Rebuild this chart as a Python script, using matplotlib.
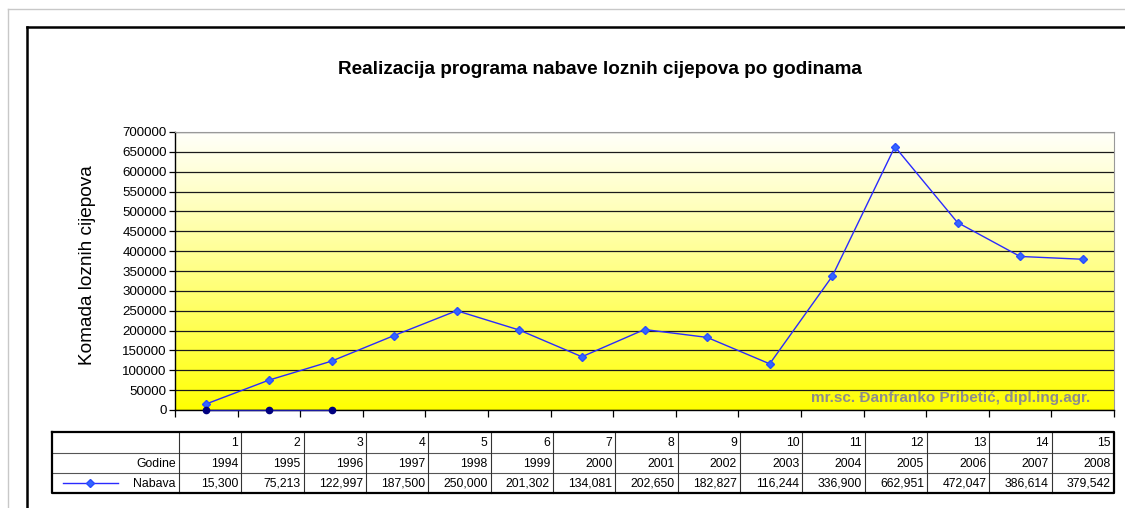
import numpy as np
import matplotlib
matplotlib.use("Agg")
import matplotlib.pyplot as plt

plt.rcParams['font.family'] = ['Liberation Sans', 'DejaVu Sans']

# data
redni = [1, 2, 3, 4, 5, 6, 7, 8, 9, 10, 11, 12, 13, 14, 15]
godine = [1994, 1995, 1996, 1997, 1998, 1999, 2000, 2001, 2002, 2003, 2004, 2005, 2006, 2007, 2008]
nabava = [15300, 75213, 122997, 187500, 250000, 201302, 134081, 202650, 182827, 116244,
          336900, 662951, 472047, 386614, 379542]
nule_x = [1, 2, 3]
nule = [0, 0, 0]

title = "Realizacija programa nabave loznih cijepova po godinama"
ylabel = "Komada loznih cijepova"
potpis = "mr.sc. Đanfranko Pribetić, dipl.ing.agr."

W, H = 1125, 508
fig = plt.figure(figsize=(W / 100, H / 100), dpi=100)

# background axes in pixel coordinates (frames + table)
bg = fig.add_axes([0, 0, 1, 1])
bg.set_xlim(0, W)
bg.set_ylim(H, 0)
bg.axis("off")

bg.plot([8, W], [9, 9], color="#c8c8c8", lw=1)
bg.plot([8, 8], [9, H], color="#c8c8c8", lw=1)
bg.plot([27, W], [27, 27], color="black", lw=1.8)
bg.plot([27, 27], [27, H], color="black", lw=1.8)

# plot area
L, R, T, B = 175, 1114, 132, 410
ax = fig.add_axes([L / W, 1 - B / H, (R - L) / W, (B - T) / H])

grad = np.linspace(0, 1, 256)
img = np.zeros((256, 1, 3))
img[:, 0, 0] = 1.0
img[:, 0, 1] = 1.0
img[:, 0, 2] = grad ** 0.9 * 0.98
ax.imshow(img, origin="lower", extent=[0.5, 15.5, 0, 700000], aspect="auto", zorder=0)

ax.set_xlim(0.5, 15.5)
ax.set_ylim(0, 700000)
ax.set_yticks(range(0, 700001, 50000))
ax.set_yticklabels([str(v) for v in range(0, 700001, 50000)], fontsize=9.6)
ax.yaxis.grid(True, color="#1a1a1a", lw=0.9, zorder=1)
ax.set_xticks(np.arange(0.5, 16, 1))
ax.set_xticklabels([])
ax.tick_params(axis="x", direction="out", length=5, width=0.9)
ax.tick_params(axis="y", direction="out", length=4, width=0.9, pad=2)
for s in ["top", "right"]:
    ax.spines[s].set_color("#999999")
for s in ["left", "bottom"]:
    ax.spines[s].set_color("black")
    ax.spines[s].set_linewidth(1.0)

ax.plot(redni, nabava, color="#2a2aff", lw=1.0, marker="D", markersize=4.5,
        markerfacecolor="#3366ff", markeredgecolor="#2a4cff", zorder=4, clip_on=False)
ax.plot(nule_x, nule, color="#1a1aa0", lw=1.0, marker="o", markersize=4.5,
        markerfacecolor="#000080", markeredgecolor="#000080", zorder=4, clip_on=False)

ax.text(0.975, 0.043, potpis, transform=ax.transAxes, ha="right", va="center",
        fontsize=11.0, fontweight="bold", color="#8c8c8c", zorder=5)

fig.text(600 / W, 1 - 70 / H, title, ha="center", va="center", fontsize=13.6, fontweight="bold")
fig.text(88 / W, 1 - 265 / H, ylabel, ha="center", va="center", rotation=90, fontsize=13.7)

# table
tx0, tx1 = 52, 1114
c0 = 179
cw = (tx1 - c0) / 15
rows = [432, 453, 473, 493]
for y in rows[1:-1]:
    bg.plot([tx0, tx1], [y, y], color="#555555", lw=0.8)
for k in range(15):
    x = c0 + k * cw
    bg.plot([x, x], [rows[0], rows[-1]], color="#333333", lw=0.8)
bg.plot([tx0, tx1, tx1, tx0, tx0], [rows[0], rows[0], rows[-1], rows[-1], rows[0]],
        color="black", lw=1.6)

fs = 8.8
for k in range(15):
    xr = c0 + (k + 1) * cw - 3
    bg.text(xr, (rows[0] + rows[1]) / 2 + 1, str(redni[k]), ha="right", va="center", fontsize=fs)
    bg.text(xr, (rows[1] + rows[2]) / 2 + 1, str(godine[k]), ha="right", va="center", fontsize=fs)
    bg.text(xr, (rows[2] + rows[3]) / 2 + 1, f"{nabava[k]:,}", ha="right", va="center", fontsize=fs)
bg.text(c0 - 3, (rows[1] + rows[2]) / 2 + 1, "Godine", ha="right", va="center", fontsize=fs)
bg.text(c0 - 3, (rows[2] + rows[3]) / 2 + 1, "Nabava", ha="right", va="center", fontsize=fs)
bg.plot([63, 118], [(rows[2] + rows[3]) / 2] * 2, color="#2a2aff", lw=1.0)
bg.plot([90], [(rows[2] + rows[3]) / 2], marker="D", markersize=4.5, color="#3366ff",
        markeredgecolor="#2a4cff")

fig.savefig("out.png", dpi=100)
